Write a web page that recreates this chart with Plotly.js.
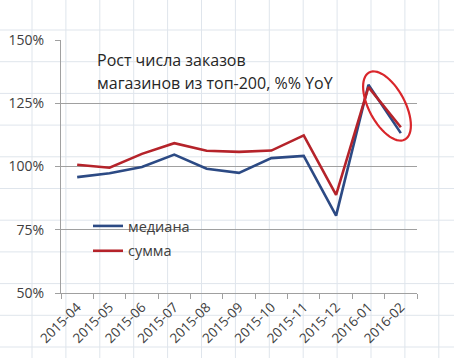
<!DOCTYPE html>
<html>
<head>
<meta charset="utf-8">
<script src="https://cdn.plot.ly/plotly-3.0.1.min.js"></script>
<style>html,body{margin:0;padding:0;background:#fff;}#chart{width:454px;height:358px;}</style>
</head>
<body>
<div id="chart"></div>
<script>
var months = ["2015-04","2015-05","2015-06","2015-07","2015-08","2015-09","2015-10","2015-11","2015-12","2016-01","2016-02"];
var mediana = [95.8, 97.3, 99.8, 104.7, 99.1, 97.5, 103.3, 104.2, 80.6, 132.3, 113.2];
var summa   = [100.7, 99.5, 105.0, 109.2, 106.2, 105.8, 106.3, 112.3, 88.8, 131.4, 115.5];
var yTicks = [50, 75, 100, 125, 150];
var seriesNames = ["медиана", "сумма"];
var titleLines = ["Рост числа заказов", "магазинов из топ-200, %% YoY"];

var W = 454, H = 358, L = 61, R = 37, T = 40, B = 65;
var pw = W - L - R, ph = H - T - B;
function px2x(px){ return (px - L) / pw; }
function py2y(py){ return (H - B - py) / ph; }

var shapes = [];
// spreadsheet background grid
var sheetColor = "#dfe5ec";
for (var k = 0; k <= 12; k++) {
  var gx = 32 + 33.9 * k;
  shapes.push({type:"line", xref:"paper", yref:"paper", x0:px2x(gx), x1:px2x(gx), y0:py2y(0), y1:py2y(H), line:{color:sheetColor, width:1}, layer:"below"});
}
for (var j = 0; j <= 10; j++) {
  var gy = 30 + 31.7 * j;
  shapes.push({type:"line", xref:"paper", yref:"paper", x0:px2x(0), x1:px2x(W), y0:py2y(gy), y1:py2y(gy), line:{color:sheetColor, width:1}, layer:"below"});
}
// red highlight ellipse
var cx = 387, cy = 106, a = 38, b = 18, th = 62 * Math.PI / 180;
var path = "";
for (var i = 0; i <= 60; i++) {
  var t = 2 * Math.PI * i / 60;
  var ex = cx + a * Math.cos(t) * Math.cos(th) - b * Math.sin(t) * Math.sin(th);
  var ey = cy + a * Math.cos(t) * Math.sin(th) + b * Math.sin(t) * Math.cos(th);
  path += (i === 0 ? "M" : "L") + px2x(ex).toFixed(5) + "," + py2y(ey).toFixed(5);
}
path += "Z";
shapes.push({type:"path", xref:"paper", yref:"paper", path:path, line:{color:"#d9262b", width:2.2}});

var font = "Open Sans, sans-serif";
var traces = [
  {x: months, y: mediana, name: seriesNames[0], type: "scatter", mode: "lines", line: {color: "#2c4a84", width: 2.6}, legendgroup:"a"},
  {x: months, y: summa, name: seriesNames[1], type: "scatter", mode: "lines", line: {color: "#b5232a", width: 2.6}, legendgroup:"b"}
];
var layout = {
  width: W, height: H,
  margin: {l: L, r: R, t: T, b: B},
  paper_bgcolor: "rgba(0,0,0,0)", plot_bgcolor: "rgba(0,0,0,0)",
  font: {family: font, color: "#404040", size: 13},
  showlegend: true,
  legend: {x: px2x(88), y: py2y(210), xanchor: "left", yanchor: "top", bgcolor: "rgba(0,0,0,0)", font: {size: 14.5, color: "#404040"}, tracegroupgap: 3, itemwidth: 30},
  xaxis: {type: "category", range: [-0.5, 10.5], tickson: "boundaries", ticks: "outside", ticklen: 5, tickcolor: "#a0a0a0",
          showgrid: false, showline: true, linecolor: "#a0a0a0", linewidth: 1, tickangle: -45, tickfont: {size: 13.5, color: "#404040"}, fixedrange: true},
  yaxis: {range: [50, 150], tickvals: yTicks, ticktext: yTicks.map(function(v){return v + "%";}), ticks: "outside", ticklen: 5, tickcolor: "#a0a0a0",
          ticklabelstandoff: 8,
          showgrid: true, gridcolor: "#a0a0a0", gridwidth: 1, showline: true, linecolor: "#a0a0a0", zeroline: false, tickfont: {size: 14, color: "#404040"}, fixedrange: true},
  shapes: shapes,
  annotations: titleLines.map(function(txt, n){
    return {xref: "paper", yref: "paper", x: px2x(95), y: py2y(60 + 23 * n), xanchor: "left", yanchor: "middle", align: "left",
            text: txt, showarrow: false, font: {size: 16, color: "#262626", family: font}};
  })
};
Plotly.newPlot("chart", traces, layout, {displayModeBar: false, staticPlot: true});
</script>
</body>
</html>
